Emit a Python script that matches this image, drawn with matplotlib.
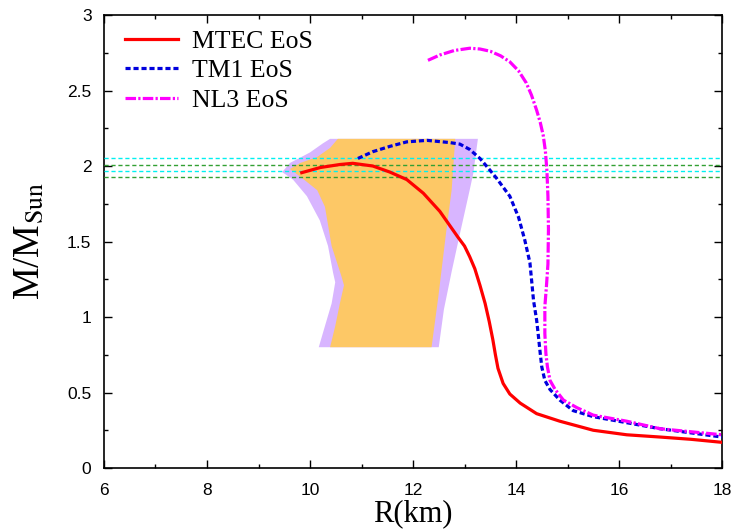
import matplotlib
matplotlib.use("Agg")
import matplotlib.pyplot as plt
from matplotlib.ticker import MultipleLocator, FuncFormatter

plt.rcParams['mathtext.fontset'] = 'stix'

# ---- data ----
mtec_R = [9.84, 10.2, 10.58, 10.83, 11.22, 11.55, 11.88, 12.2, 12.52, 12.87, 13.0,
          13.1, 13.2, 13.3, 13.4, 13.48, 13.55, 13.6, 13.65, 13.75, 13.88, 14.08, 14.4,
          14.85, 15.5, 16.15, 16.8, 17.4, 18.0]
mtec_M = [1.956, 1.99, 2.01, 2.018, 2.0, 1.96, 1.91, 1.82, 1.70, 1.53, 1.47,
          1.40, 1.32, 1.21, 1.09, 0.97, 0.85, 0.75, 0.66, 0.56, 0.49, 0.43, 0.36,
          0.31, 0.25, 0.22, 0.205, 0.19, 0.17]

tm1_R = [10.93, 11.22, 11.55, 11.88, 12.27, 12.72, 12.91, 13.1, 13.3, 13.5, 13.62,
         13.88, 14.05, 14.17, 14.27, 14.34, 14.40, 14.43, 14.47, 14.50, 14.56, 14.66,
         14.85, 15.11, 15.50, 16.15, 16.8, 18.0]
tm1_M = [2.05, 2.095, 2.13, 2.16, 2.17, 2.155, 2.145, 2.11, 2.05, 1.97, 1.92,
         1.80, 1.66, 1.51, 1.36, 1.11, 0.98, 0.89, 0.76, 0.67, 0.58, 0.52,
         0.45, 0.38, 0.34, 0.30, 0.26, 0.205]

nl3_R = [12.29, 12.52, 12.8, 13.1, 13.3, 13.5, 13.7, 13.88, 14.05, 14.2, 14.3,
         14.4, 14.47, 14.53, 14.57, 14.6, 14.62, 14.63, 14.62, 14.59, 14.56, 14.56,
         14.58, 14.61, 14.66, 14.76, 14.92, 15.18, 15.5, 16.15, 16.8, 18.0]
nl3_M = [2.70, 2.735, 2.765, 2.78, 2.775, 2.76, 2.73, 2.69, 2.63, 2.55, 2.47,
         2.37, 2.29, 2.20, 2.10, 1.97, 1.80, 1.58, 1.35, 1.20, 1.07, 0.89,
         0.76, 0.67, 0.58, 0.52, 0.45, 0.40, 0.35, 0.31, 0.26, 0.22]

# outer (purple) constraint band polygon
band_out_R = [10.39, 10.25, 10.0, 9.61, 9.46, 9.67, 9.94, 10.19, 10.35, 10.45, 10.49,
              10.42, 10.29, 10.17, 12.50, 12.60, 12.75, 12.91, 13.1, 13.17, 13.26]
band_out_M = [2.18, 2.15, 2.09, 2.02, 1.96, 1.91, 1.80, 1.64, 1.47, 1.29, 1.23,
              1.09, 0.94, 0.80, 0.80, 1.05, 1.30, 1.55, 1.84, 1.95, 2.18]

# inner (orange) constraint band polygon
band_in_R = [10.54, 10.39, 10.14, 9.81, 9.61, 9.81, 10.14, 10.29, 10.42, 10.61, 10.66,
             10.58, 10.49, 10.39, 12.36, 12.49, 12.65, 12.75, 12.82]
band_in_M = [2.18, 2.12, 2.06, 2.02, 1.98, 1.93, 1.84, 1.73, 1.47, 1.27, 1.21,
             1.09, 0.94, 0.80, 0.80, 1.13, 1.58, 1.84, 2.18]

cyan_levels = [2.05, 1.97]
green_levels = [2.01, 1.93]

labels = ["MTEC EoS", "TM1 EoS", "NL3 EoS"]

# ---- figure ----
fig = plt.figure(figsize=(7.36, 5.29), dpi=100)
ax = fig.add_axes([0.1413, 0.1153, 0.981 - 0.1413, 0.9716 - 0.1153])

ax.fill(band_out_R, band_out_M, color='#d8b5ff', lw=0, zorder=1)
ax.fill(band_in_R, band_in_M, color='#fdc866', lw=0, zorder=2)

for lv in cyan_levels:
    ax.axhline(lv, color='#00f0f0', lw=1.0, dashes=(3, 2), zorder=3)
for lv in green_levels:
    ax.axhline(lv, color='#33a033', lw=1.0, dashes=(3, 2), zorder=3)

ax.plot(mtec_R, mtec_M, color='red', lw=2.3, label=labels[0], zorder=5)
ax.plot(tm1_R, tm1_M, color='#0000dd', lw=2.3, dashes=(1.6, 0.9), label=labels[1], zorder=5)
ax.plot(nl3_R, nl3_M, color='magenta', lw=2.3, dashes=(3.3, 0.7, 0.7, 0.7), label=labels[2], zorder=5)

ax.set_xlim(6, 18)
ax.set_ylim(0, 3)
ax.xaxis.set_major_locator(MultipleLocator(2))
ax.xaxis.set_minor_locator(MultipleLocator(1))
ax.yaxis.set_major_locator(MultipleLocator(0.5))
ax.yaxis.set_minor_locator(MultipleLocator(0.25))
ax.yaxis.set_major_formatter(FuncFormatter(lambda v, p: f"{v:g}"))

ax.tick_params(which='both', direction='in', top=True, right=True, width=1.0)
ax.tick_params(which='major', length=6, labelsize=12.5)
ax.tick_params(axis='x', which='major', pad=11)
ax.tick_params(axis='y', which='major', pad=9)
ax.tick_params(which='minor', length=3)
for lab in ax.get_xticklabels() + ax.get_yticklabels():
    lab.set_fontfamily('Liberation Sans')
for s in ax.spines.values():
    s.set_linewidth(1.2)

ax.set_xlabel('R(km)', fontsize=22, family='Liberation Serif', labelpad=1)
ax.set_ylabel(r'M/M$_{\rm Sun}$', fontsize=26.5, family='Liberation Serif', labelpad=14)

leg = ax.legend(loc='upper left', bbox_to_anchor=(0.01, 1.0), frameon=False,
                handlelength=2.05, prop={'family': 'Liberation Serif', 'size': 18.5},
                borderaxespad=0.18, labelspacing=0.25, handletextpad=0.55)

fig.savefig('out.png', dpi=100)
